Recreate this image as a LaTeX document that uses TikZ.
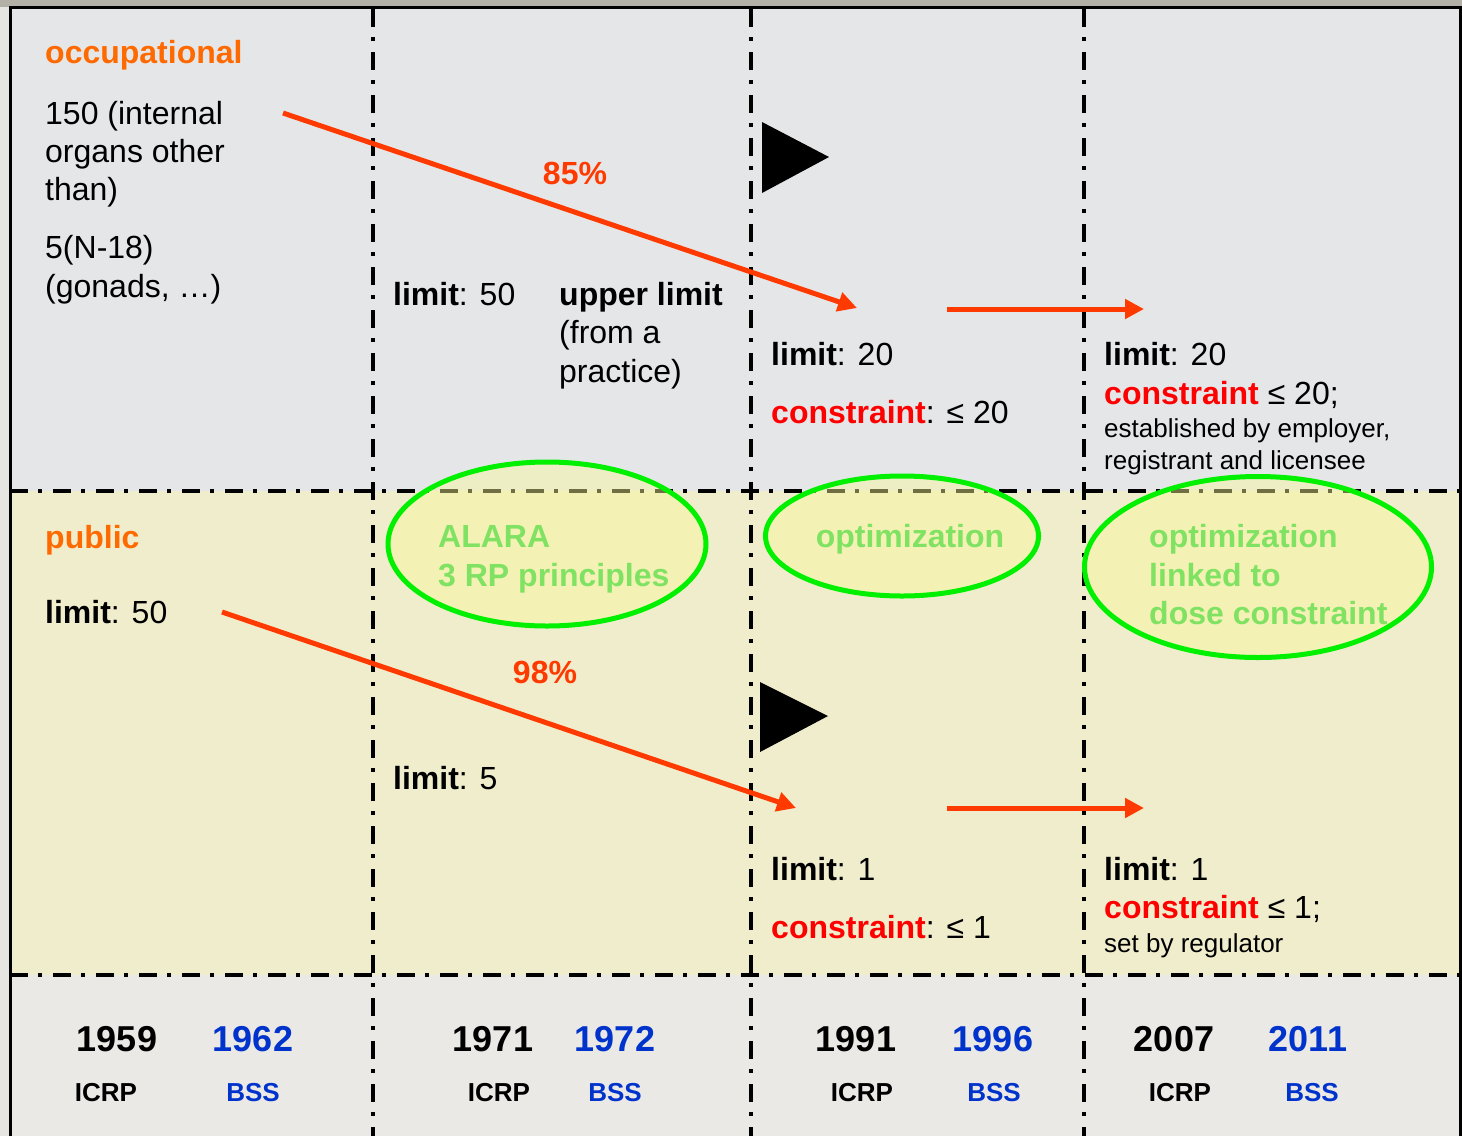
\documentclass[tikz,border=0pt]{standalone}
\usepackage{fontspec}
\setmainfont{Liberation Sans}
\usetikzlibrary{arrows.meta,shapes.geometric}
\definecolor{pagegrey}{HTML}{B3B1A7}
\definecolor{leftgrey}{HTML}{E7E5E1}
\definecolor{topbg}{HTML}{E4E6E8}
\definecolor{midbg}{HTML}{EFEDCC}
\definecolor{botbg}{HTML}{EBE9E5}
\definecolor{hdorange}{HTML}{FF6A00}
\definecolor{arrowred}{HTML}{FF3A00}
\definecolor{conred}{HTML}{FF0000}
\definecolor{bssblue}{HTML}{0033CC}
\definecolor{ellgreen}{HTML}{00F000}
\definecolor{ellfill}{HTML}{FAF896}
\definecolor{elltext}{HTML}{80E262}
\tikzset{
  txt/.style={font=\fontsize{32}{38}\selectfont, anchor=base west, inner sep=0pt},
  sm/.style={font=\fontsize{26}{31}\selectfont, anchor=base west, inner sep=0pt},
  hd/.style={font=\fontsize{32}{38}\selectfont\bfseries, text=hdorange, anchor=base west, inner sep=0pt},
  pct/.style={font=\fontsize{32}{38}\selectfont\bfseries, text=arrowred, anchor=base, inner sep=0pt},
  yr/.style={font=\fontsize{36}{43}\selectfont\bfseries, anchor=base, inner sep=0pt},
  org/.style={font=\fontsize{26}{31}\selectfont\bfseries, anchor=base, inner sep=0pt},
  etxt/.style={font=\fontsize{32}{38}\selectfont\bfseries, text=elltext, anchor=base west, inner sep=0pt},
  ell/.style={ellipse, draw=ellgreen, line width=5pt, fill=ellfill, fill opacity=0.45, inner sep=0pt},
  ddline/.style={line width=3.5pt, dash pattern=on 18pt off 10pt on 4pt off 11pt},
  bigarrow/.style={draw=arrowred, line width=5pt, -{Triangle[length=19pt,width=19pt]}},
}
\newcommand{\cons}{\textcolor{conred}{\textbf{constraint}}}
\newcommand{\limlbl}{\textbf{limit}:}
\begin{document}
\begin{tikzpicture}[x=1pt,y=-1pt]
\useasboundingbox (0,0) rectangle (1462,1136);
% page and panel backgrounds
\fill[leftgrey] (0,0) rectangle (1462,1136);
\fill[pagegrey] (0,0) rectangle (1462,7);
\fill[topbg] (10,8) rectangle (1460,491);
\fill[midbg] (10,491) rectangle (1460,975);
\fill[botbg] (10,975) rectangle (1460,1136);
% frame
\draw[line width=3pt] (10,1136) -- (10,7.5) -- (1460,7.5) -- (1460,1136);
% dash-dot separators
\draw[ddline] (10,491) -- (1460,491);
\draw[ddline] (10,975) -- (1460,975);
\draw[ddline] (373,9) -- (373,1136);
\draw[ddline] (751,9) -- (751,1136);
\draw[ddline] (1084,9) -- (1084,1136);
% ellipses
\node[ell, minimum width=318pt, minimum height=164pt] (e1) at (547,544) {};
\node[ell, minimum width=273pt, minimum height=120pt] (e2) at (902,536) {};
\node[ell, minimum width=347pt, minimum height=181pt] (e3) at (1258,567) {};
\node[etxt] (e1a) at (438,547) {ALARA};
\node[etxt] (e1b) at (438,586) {3 RP principles};
\node[etxt, anchor=base] (e2a) at (910,547) {optimization};
\node[etxt] (e3a) at (1149,547) {optimization};
\node[etxt] (e3b) at (1149,586) {linked to};
\node[etxt] (e3c) at (1149,624) {dose constraint};
% triangles
\fill (762,122) -- (762,193) -- (829,157) -- cycle;
\fill (760,682) -- (760,752) -- (828,716) -- cycle;
% occupational block
\node[hd] (occ) at (45,63) {occupational};
\node[txt] (o1) at (45,124) {150 (internal};
\node[txt] (o2) at (45,162) {organs other};
\node[txt] (o3) at (45,200) {than)};
\node[txt] (o4) at (45,258) {5(N-18)};
\node[txt] (o5) at (45,297) {(gonads, …)};
\node[txt] (l71) at (393,305) {\limlbl{} 50};
\node[txt] (u1) at (559,305) {\textbf{upper limit}};
\node[txt] (u2) at (559,343) {(from a};
\node[txt] (u3) at (559,382) {practice)};
\node[pct] (p85) at (575,184) {85\%};
\node[txt] (l91) at (771,365) {\limlbl{} 20};
\node[txt] (c91) at (771,423) {\cons: ≤ 20};
\node[txt] (l07) at (1104,365) {\limlbl{} 20};
\node[txt] (c07) at (1104,404) {\cons\ ≤ 20;};
\node[sm] (s07a) at (1104,437) {established by employer,};
\node[sm] (s07b) at (1104,469) {registrant and licensee};
% public block
\node[hd] (pub) at (45,548) {public};
\node[txt] (pl59) at (45,623) {\limlbl{} 50};
\node[pct] (p98) at (545,683) {98\%};
\node[txt] (pl71) at (393,789) {\limlbl{} 5};
\node[txt] (pl91) at (771,880) {\limlbl{} 1};
\node[txt] (pc91) at (771,938) {\cons: ≤ 1};
\node[txt] (pl07) at (1104,880) {\limlbl{} 1};
\node[txt] (pc07) at (1104,918) {\cons\ ≤ 1;};
\node[sm] (ps07) at (1104,952) {set by regulator};
% arrows
\coordinate (a1s) at (283,113);
\coordinate (a1e) at (857,308);
\coordinate (a2s) at (947,309);
\coordinate (a2e) at (1144,309);
\coordinate (a3s) at (222,612);
\coordinate (a3e) at (796,808);
\coordinate (a4s) at (947,808);
\coordinate (a4e) at (1144,808);
\draw[bigarrow] (a1s) -- (a1e);
\draw[bigarrow] (a2s) -- (a2e);
\draw[bigarrow] (a3s) -- (a3e);
\draw[bigarrow] (a4s) -- (a4e);
% years
\node[yr] (y59) at (117,1051) {1959};
\node[yr, text=bssblue] (y62) at (253,1051) {1962};
\node[org] (i59) at (106,1101) {ICRP};
\node[org, text=bssblue] (b62) at (253,1101) {BSS};
\node[yr] (y71) at (493,1051) {1971};
\node[yr, text=bssblue] (y72) at (615,1051) {1972};
\node[org] (i71) at (499,1101) {ICRP};
\node[org, text=bssblue] (b72) at (615,1101) {BSS};
\node[yr] (y91) at (856,1051) {1991};
\node[yr, text=bssblue] (y96) at (993,1051) {1996};
\node[org] (i91) at (862,1101) {ICRP};
\node[org, text=bssblue] (b96) at (994,1101) {BSS};
\node[yr] (y07) at (1174,1051) {2007};
\node[yr, text=bssblue] (y11) at (1308,1051) {2011};
\node[org] (i07) at (1180,1101) {ICRP};
\node[org, text=bssblue] (b11) at (1312,1101) {BSS};
\end{tikzpicture}
\end{document}
